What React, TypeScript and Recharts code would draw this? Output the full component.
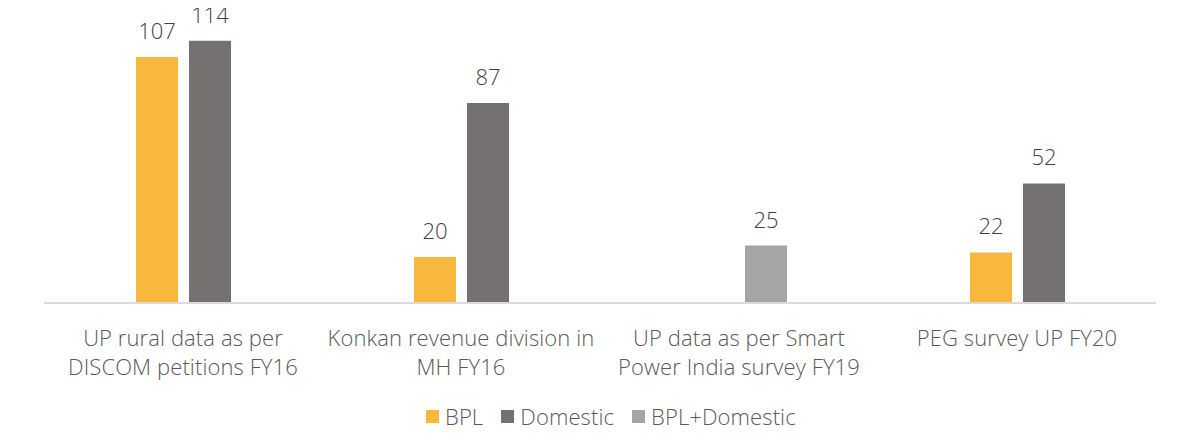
import React from "react";
import { BarChart, Bar, XAxis, YAxis, LabelList, Legend } from "recharts";

const categories = [
  "UP rural data as per\nDISCOM petitions FY16",
  "Konkan revenue division in\nMH FY16",
  "UP data as per Smart\nPower India survey FY19",
  "PEG survey UP FY20",
];
const bplValues: (number | null)[] = [107, 20, null, 22];
const domesticValues: (number | null)[] = [114, 87, null, 52];
const bplDomesticValues: (number | null)[] = [null, null, 25, null];

const seriesNames = ["BPL", "Domestic", "BPL+Domestic"];
const seriesColors = ["#F8B73D", "#767171", "#A5A5A5"];

const data = categories.map((name, i) => ({
  name,
  bpl: bplValues[i],
  domestic: domesticValues[i],
  bplDomestic: bplDomesticValues[i],
}));

const FONT = "'Open Sans', sans-serif";
const WEIGHT = 300;
const SIZE = 22;
const SPACING = 0.1;

const CategoryTick = (props: any) => {
  const { x, y, payload } = props;
  const lines = String(payload.value).split("\n");
  return (
    <text
      x={x}
      y={y}
      textAnchor="middle"
      fill="#595959"
      fontSize={SIZE}
      fontWeight={WEIGHT}
      fontFamily={FONT}
      letterSpacing={SPACING}
    >
      {lines.map((l, i) => (
        <tspan key={i} x={x} y={y + 42.5 + i * 29.5}>
          {l}
        </tspan>
      ))}
    </text>
  );
};

const ValueLabel = (props: any) => {
  const { x, y, width, value } = props;
  let v = value;
  if (Array.isArray(v)) v = v[1] - v[0];
  if (v === null || v === undefined || v === 0 || Number.isNaN(v)) return null;
  return (
    <text
      x={Number(x) + Number(width) / 2}
      y={Number(y) - 18}
      textAnchor="middle"
      fill="#404040"
      fontSize={SIZE}
      fontWeight={WEIGHT}
      fontFamily={FONT}
    >
      {v}
    </text>
  );
};

const LegendContent = () => (
  <div
    style={{
      display: "flex",
      alignItems: "center",
      height: 21,
      paddingLeft: 426,
      fontFamily: FONT,
      fontSize: SIZE,
      fontWeight: WEIGHT,
      letterSpacing: SPACING,
      lineHeight: "21px",
      color: "#595959",
    }}
  >
    {seriesNames.map((n, i) => (
      <div key={n} style={{ display: "flex", alignItems: "center", marginRight: 18 }}>
        <div style={{ width: 13, height: 13, background: seriesColors[i], marginRight: 6 }} />
        <span>{n}</span>
      </div>
    ))}
  </div>
);

export default function App() {
  return (
    <div style={{ margin: -8 }}>
      <BarChart
        width={1204}
        height={442}
        data={data}
        margin={{ top: 27, right: 48, left: 44, bottom: 15 }}
        barSize={42}
        barGap={11}
      >
        <XAxis
          dataKey="name"
          height={103}
          interval={0}
          tickLine={false}
          tickSize={0}
          tickMargin={0}
          axisLine={{ stroke: "#D9D9D9", strokeWidth: 2 }}
          tick={<CategoryTick />}
        />
        <YAxis hide domain={[0, 120]} />
        <Legend
          verticalAlign="bottom"
          wrapperStyle={{ left: 0, width: 1204 }}
          content={<LegendContent />}
        />
        <Bar dataKey="bpl" name="BPL" stackId="a" fill={seriesColors[0]} isAnimationActive={false}>
          <LabelList dataKey="bpl" content={<ValueLabel />} />
        </Bar>
        <Bar dataKey="domestic" name="Domestic" stackId="b" fill={seriesColors[1]} isAnimationActive={false}>
          <LabelList dataKey="domestic" content={<ValueLabel />} />
        </Bar>
        <Bar dataKey="bplDomestic" name="BPL+Domestic" stackId="b" fill={seriesColors[2]} isAnimationActive={false}>
          <LabelList dataKey="bplDomestic" content={<ValueLabel />} />
        </Bar>
      </BarChart>
    </div>
  );
}
